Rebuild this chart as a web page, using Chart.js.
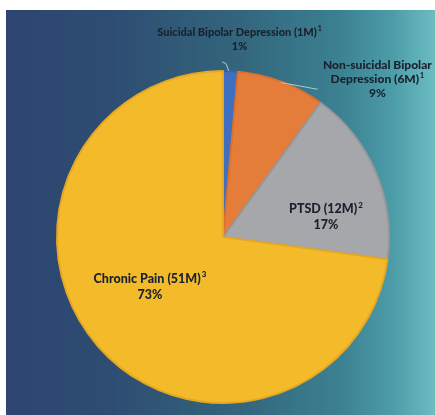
<!DOCTYPE html>
<html>
<head>
<meta charset="utf-8">
<script src="https://cdn.jsdelivr.net/npm/chart.js@4.4.0/dist/chart.umd.min.js"></script>
<style>
html,body{margin:0;padding:0;background:#ffffff;}
#wrap{position:relative;width:435px;height:415px;}
</style>
</head>
<body>
<div id="wrap"><canvas id="c" width="435" height="415"></canvas></div>
<script>
const categories = ["Suicidal Bipolar Depression (1M)", "Non-suicidal Bipolar Depression (6M)", "PTSD (12M)", "Chronic Pain (51M)"];
const labelLines = [["Suicidal Bipolar Depression (1M)"], ["Non-suicidal Bipolar", "Depression (6M)"], ["PTSD (12M)"], ["Chronic Pain (51M)"]];
const footnotes = ["1", "1", "2", "3"];
const valuesM = [1, 6, 12, 51];
const percentLabels = ["1%", "9%", "17%", "73%"];
const sliceColors = ["#3f6fc0", "#e57d3a", "#a6a7aa", "#f3ba2a"];
const sliceBorders = ["#3563ad", "#d9702e", "#96979a", "#e6a823"];

// label anchor offsets relative to pie centre, in units of radius
const labelAnchors = [[0.10, -1.19], [0.93, -0.95], [0.62, -0.12], [-0.44, 0.30]];
const leaderLines = [
  [[0.035, -1.0], [0.018, -1.045], [-0.005, -1.055]],
  [[0.35, -0.93], [0.57, -0.89]]
];

const bgPlugin = {
  id: 'bg',
  beforeDraw(chart) {
    const ctx = chart.ctx;
    const W = chart.width, H = chart.height;
    ctx.save();
    ctx.fillStyle = '#ffffff';
    ctx.fillRect(0, 0, W, H);
    const g = ctx.createLinearGradient(6, 0, W, 0);
    g.addColorStop(0, '#2d4570');
    g.addColorStop(0.25, '#2e4d72');
    g.addColorStop(0.55, '#33667c');
    g.addColorStop(0.78, '#3b8192');
    g.addColorStop(0.9, '#4c9ca8');
    g.addColorStop(1, '#6bbdc2');
    ctx.fillStyle = g;
    ctx.fillRect(6, 10, W - 6, H - 10);
    ctx.restore();
  }
};

const labelPlugin = {
  id: 'lbls',
  afterDraw(chart) {
    const ctx = chart.ctx;
    const arc = chart.getDatasetMeta(0).data[0];
    const cx = arc.x, cy = arc.y, r = arc.outerRadius;
    ctx.save();
    ctx.strokeStyle = '#a9cbd3';
    ctx.lineWidth = 1;
    leaderLines.forEach(pts => {
      ctx.beginPath();
      pts.forEach((p, i) => {
        const x = cx + p[0] * r, y = cy + p[1] * r;
        if (i === 0) ctx.moveTo(x, y); else ctx.lineTo(x, y);
      });
      ctx.stroke();
    });
    ctx.fillStyle = '#18212c';
    ctx.textBaseline = 'middle';
    const fam = 'Lato, "Open Sans", sans-serif';
    labelLines.forEach((lines, i) => {
      const ax = cx + labelAnchors[i][0] * r;
      const ay = cy + labelAnchors[i][1] * r;
      const all = lines.concat([percentLabels[i]]);
      const big = i >= 2;
      const fs = big ? 12.5 : (i === 1 ? 12 : 11);
      const lhh = big ? 16 : 14;
      const top = ay - (all.length - 1) * lhh / 2;
      all.forEach((t, j) => {
        ctx.font = '900 ' + fs + 'px ' + fam;
        const y = top + j * lhh;
        const isLastText = j === lines.length - 1;
        const w = ctx.measureText(t).width;
        let sw = 0;
        const sfs = Math.round(fs * 0.6);
        if (isLastText) {
          ctx.font = '900 ' + sfs + 'px ' + fam;
          sw = ctx.measureText(footnotes[i]).width + 1;
        }
        const x0 = ax - (w + sw) / 2;
        ctx.font = '900 ' + fs + 'px ' + fam;
        ctx.textAlign = 'left';
        ctx.fillText(t, x0, y);
        if (isLastText) {
          ctx.font = '900 ' + sfs + 'px ' + fam;
          ctx.fillText(footnotes[i], x0 + w + 1, y - fs * 0.32);
        }
      });
    });
    ctx.restore();
  }
};

new Chart(document.getElementById('c'), {
  type: 'pie',
  data: {
    labels: categories,
    datasets: [{
      data: valuesM,
      backgroundColor: sliceColors,
      borderColor: sliceBorders,
      borderWidth: 2
    }]
  },
  options: {
    responsive: false,
    animation: false,
    layout: { padding: { top: 70, bottom: 11, left: 56, right: 45 } },
    plugins: {
      legend: { display: false },
      tooltip: { enabled: false }
    }
  },
  plugins: [bgPlugin, labelPlugin]
});
</script>
</body>
</html>
